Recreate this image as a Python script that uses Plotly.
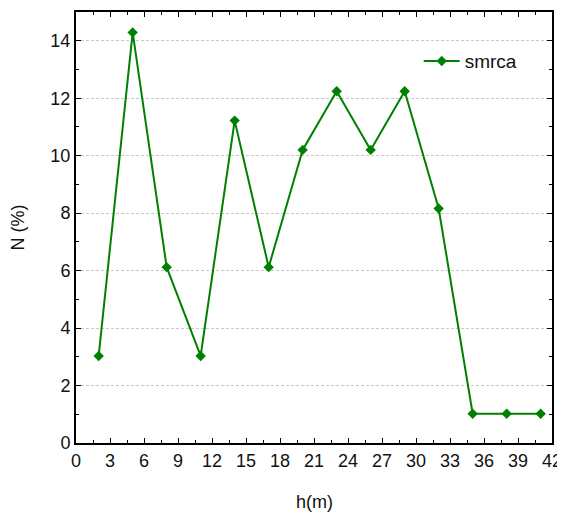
import plotly.graph_objects as go

h_m = [2, 5, 8, 11, 14, 17, 20, 23, 26, 29, 32, 35, 38, 41]
n_pct = [3.03, 14.29, 6.12, 3.03, 11.22, 6.12, 10.2, 12.24, 10.2, 12.24, 8.16, 1.02, 1.02, 1.02]

fig = go.Figure()
fig.add_trace(go.Scatter(
    x=h_m, y=n_pct, name="smrca", mode="lines+markers",
    line=dict(color="#008000", width=2),
    marker=dict(symbol="diamond", size=8, color="#008000"),
))

axis_common = dict(
    showline=True, linecolor="black", linewidth=2, mirror="allticks",
    ticks="inside", ticklen=5, tickcolor="black", tickwidth=1,
    zeroline=False, automargin=False, tickfont=dict(size=18, color="#111111"),
)

# the page body has an 8px margin, so the figure is sized to fit inside it
fig.update_layout(
    width=555, height=505,
    margin=dict(l=68, r=11, t=4, b=70),
    paper_bgcolor="white", plot_bgcolor="white",
    font=dict(family="Liberation Sans, Arial, sans-serif", color="#111111"),
    xaxis=dict(range=[0, 42], dtick=3, tick0=0, showgrid=False,
               minor=dict(ticks="inside", dtick=1.5, ticklen=3, tickcolor="black", showgrid=False),
               **axis_common),
    yaxis=dict(range=[0, 15], dtick=2, tick0=0, showgrid=True,
               gridcolor="#c8c8c8", griddash="3px,2px", gridwidth=1,
               minor=dict(ticks="inside", dtick=1, ticklen=3, tickcolor="black", showgrid=False),
               **axis_common),
    legend=dict(x=0.72, y=0.93, xanchor="left", yanchor="top", bgcolor="rgba(0,0,0,0)",
                itemwidth=36, font=dict(size=19)),
    showlegend=True,
    annotations=[
        dict(text="h(m)", xref="paper", yref="paper", x=0.5, y=-0.138, yanchor="middle",
             showarrow=False, font=dict(size=18)),
        dict(text="N (%)", xref="paper", yref="paper", x=-0.122, y=0.5, textangle=-90,
             xanchor="center", showarrow=False, font=dict(size=18)),
    ],
)

fig.write_html("out.html")
